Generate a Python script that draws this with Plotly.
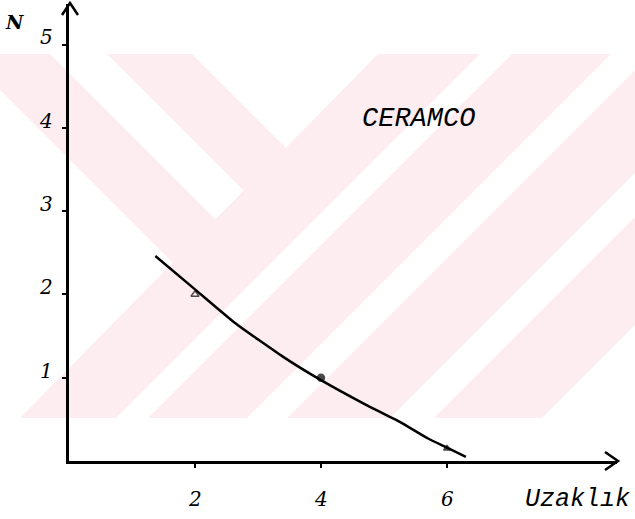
import plotly.graph_objects as go

# ---- data -------------------------------------------------------------
# fitted curve N(Uzaklik)
curve_x = [1.37, 2.0, 2.63, 3.4, 4.0, 4.7, 5.25, 5.7, 6.0, 6.3]
curve_y = [2.46, 2.06, 1.66, 1.25, 0.97, 0.68, 0.47, 0.27, 0.16, 0.05]
# measured points
point_x = [2, 4, 6]
point_y = [2.0, 1.0, 0.15]
point_symbols = ["triangle-up-open", "circle", "triangle-up"]
# tick labels
x_ticks = [2, 4, 6]
y_ticks = [1, 2, 3, 4, 5]
series_label = "CERAMCO"
x_title = "Uzaklık"
y_title = "N"

# ---- layout geometry (pixels) ---------------------------------------
W, H = 635, 519
X0_PX, Y0_PX = 69, 461        # origin
X_END_PX, Y_END_PX = 617, 4   # arrow tips
X_UNIT, Y_UNIT = 63.0, 83.3   # pixels per unit


def px(x, y):
    return x / W, 1 - y / H


def poly(pts):
    d = ""
    for i, (x, y) in enumerate(pts):
        fx, fy = px(x, y)
        d += ("M" if i == 0 else "L") + f"{fx:.5f},{fy:.5f} "
    return d + "Z"


PINK = "#fdedf0"

# background emblem: diagonal bands
bands = [
    [(0, 54), (50, 54), (238, 242), (195, 285), (0, 90)],
    [(107, 54), (192, 54), (309, 171), (266.5, 213.5)],
    [(378, 54), (480, 54), (116, 418), (20, 418)],
    [(512, 54), (611, 54), (247, 418), (148, 418)],
    [(635, 70), (635, 173), (390, 418), (287, 418)],
    [(635, 217), (635, 325), (542, 418), (434, 418)],
]
shapes = [
    dict(type="path", path=poly(b), xref="paper", yref="paper",
         fillcolor=PINK, line=dict(width=0), layer="below")
    for b in bands
]

# arrowheads on the axes
def chevron(pts):
    d = ""
    for i, (x, y) in enumerate(pts):
        fx, fy = px(x, y)
        d += ("M" if i == 0 else "L") + f"{fx:.5f},{fy:.5f} "
    return dict(type="path", path=d, xref="paper", yref="paper",
                line=dict(color="black", width=2.5))


shapes.append(chevron([(605, 452), (618, 461), (605, 470)]))
shapes.append(chevron([(62, 15), (70, 3), (78, 15)]))

fig = go.Figure()
fig.add_trace(go.Scatter(
    x=curve_x, y=curve_y, mode="lines",
    line=dict(color="black", width=2.5, shape="spline", smoothing=0.5),
    hoverinfo="skip", showlegend=False,
))
fig.add_trace(go.Scatter(
    x=point_x, y=point_y, mode="markers",
    marker=dict(symbol=point_symbols, size=[7, 7, 6], color="black",
                line=dict(color="black", width=1.5)),
    showlegend=False,
))

serif = dict(family="DejaVu Serif", size=20, color="black", style="italic")
mono = dict(family="Liberation Mono", size=25, color="black", style="italic")

annotations = []
for v in y_ticks:
    annotations.append(dict(
        x=46 / W, xref="paper", y=v, yref="y", yshift=7,
        text=str(v), showarrow=False, font=serif,
        xanchor="center", yanchor="middle"))
for v in x_ticks:
    annotations.append(dict(
        x=v, xref="x", y=1 - 499 / H, yref="paper",
        text=str(v), showarrow=False, font=serif,
        xanchor="center", yanchor="middle"))
annotations.append(dict(
    x=14 / W, y=1 - 22 / H, xref="paper", yref="paper", text=y_title,
    showarrow=False, font=dict(family="DejaVu Serif", size=19,
                               color="black", style="italic", weight="bold"),
    xanchor="center", yanchor="middle"))
annotations.append(dict(
    x=577 / W, y=1 - 499 / H, xref="paper", yref="paper", text=x_title,
    showarrow=False, font=mono, xanchor="center", yanchor="middle"))
annotations.append(dict(
    x=418 / W, y=1 - 119 / H, xref="paper", yref="paper", text=series_label,
    showarrow=False, font=dict(family="Liberation Mono", size=27,
                               color="black", style="italic"),
    xanchor="center", yanchor="middle"))

fig.update_layout(
    width=W, height=H,
    margin=dict(l=0, r=0, t=0, b=0),
    paper_bgcolor="white",
    plot_bgcolor="rgba(0,0,0,0)",
    shapes=shapes,
    annotations=annotations,
    xaxis=dict(
        domain=[X0_PX / W, X_END_PX / W],
        range=[0, (X_END_PX - X0_PX) / X_UNIT],
        showgrid=False, zeroline=False,
        showline=True, linecolor="black", linewidth=2.5,
        tickmode="array", tickvals=x_ticks, ticks="outside",
        ticklen=4, tickwidth=2, tickcolor="black",
        showticklabels=False, fixedrange=True,
    ),
    yaxis=dict(
        domain=[1 - Y0_PX / H, 1 - Y_END_PX / H],
        range=[0, (Y0_PX - Y_END_PX) / Y_UNIT],
        showgrid=False, zeroline=False,
        showline=True, linecolor="black", linewidth=2.5,
        tickmode="array", tickvals=y_ticks, ticks="outside",
        ticklen=4, tickwidth=2, tickcolor="black",
        showticklabels=False, fixedrange=True,
    ),
)

fig.write_html("out.html")
